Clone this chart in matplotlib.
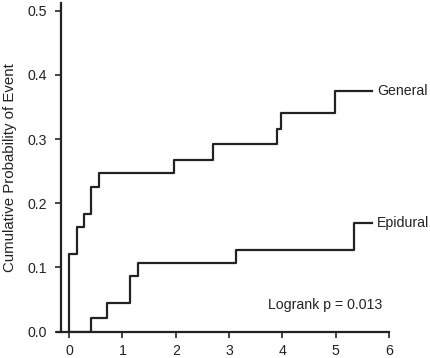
import matplotlib
matplotlib.use('Agg')
import matplotlib.pyplot as plt

plt.rcParams['font.family'] = ['Liberation Sans', 'DejaVu Sans']

# Step data (years, cumulative probability)
general_t = [0, 0, 0.14, 0.28, 0.42, 0.56, 1.96, 2.70, 3.90, 3.97, 4.98, 5.68]
general_p = [0, 0.121, 0.163, 0.183, 0.225, 0.247, 0.268, 0.292, 0.315, 0.340, 0.375, 0.375]

epidural_t = [0, 0.42, 0.72, 1.14, 1.29, 3.13, 5.35, 5.68]
epidural_p = [0, 0.022, 0.044, 0.086, 0.107, 0.128, 0.169, 0.169]

xticks = [0, 1, 2, 3, 4, 5, 6]
yticks = [0.0, 0.1, 0.2, 0.3, 0.4, 0.5]

ink = '#222222'
fs = 10.2
fig = plt.figure(figsize=(4.3, 3.58), dpi=100)
ax = fig.add_axes([0.1333, 0.0735, 0.7714, 0.918])

ax.plot(general_t, general_p, drawstyle='steps-post', color=ink, lw=1.6)
ax.plot(epidural_t, epidural_p, drawstyle='steps-post', color=ink, lw=1.6)

ax.text(5.78, 0.375, 'General', va='center', ha='left', fontsize=fs, color=ink)
ax.text(5.78, 0.169, 'Epidural', va='center', ha='left', fontsize=fs, color=ink)
ax.text(3.73, 0.0415, 'Logrank p = 0.013', va='center', ha='left', fontsize=fs, color=ink)

ax.set_xlim(-0.22, 6)
ax.set_ylim(0, 0.512)
ax.set_xticks(xticks)
ax.set_yticks(yticks)
ax.set_yticklabels([f'{v:.1f}' for v in yticks])
ax.tick_params(labelsize=fs, colors=ink, width=1.2, length=4)
ax.tick_params(axis='y', pad=6)
ax.tick_params(axis='x', pad=5)
ax.set_ylabel('Cumulative Probability of Event', fontsize=10.8, color=ink, labelpad=7)

ax.spines['top'].set_visible(False)
ax.spines['right'].set_visible(False)
ax.spines['left'].set_position(('data', -0.16))
for s in ['left', 'bottom']:
    ax.spines[s].set_linewidth(1.6)
    ax.spines[s].set_color(ink)

fig.savefig('out.png', dpi=100)
